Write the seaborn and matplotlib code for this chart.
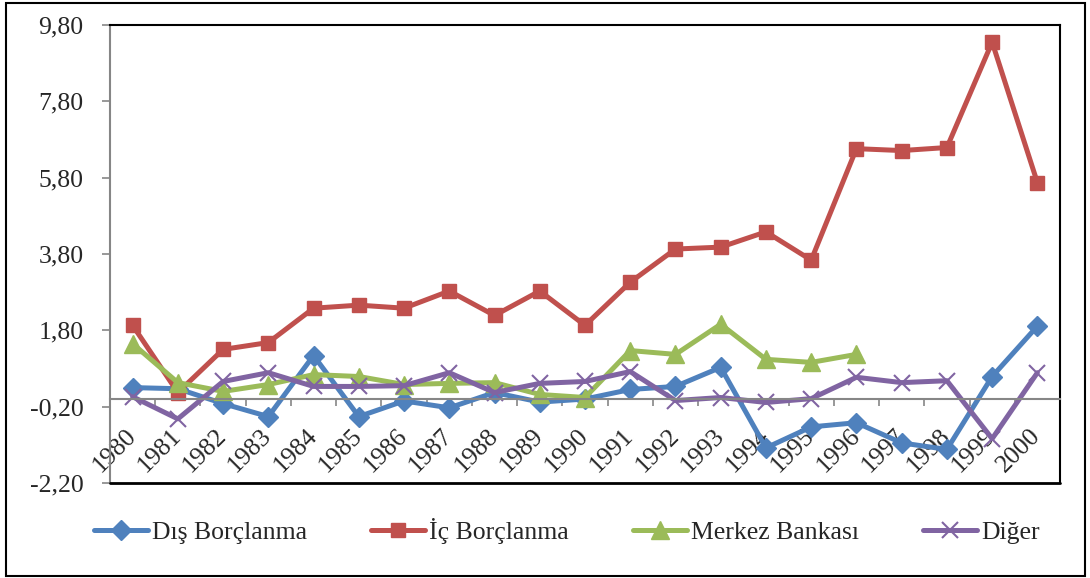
import numpy as np
import pandas as pd
import seaborn as sns

import matplotlib as mpl
import matplotlib.pyplot as plt
from matplotlib import ticker
from matplotlib.patches import Rectangle

# === DATA ===
years = list(range(1980, 2001))
dis_borclanma = [0.30, 0.27, -0.12, -0.46, 1.14, -0.46, -0.05, -0.23, 0.17, -0.08, 0.00,
                 0.25, 0.33, 0.83, -1.28, -0.73, -0.62, -1.15, -1.32, 0.59, 1.91]
ic_borclanma = [1.93, 0.17, 1.30, 1.48, 2.38, 2.46, 2.38, 2.83, 2.19, 2.83, 1.93,
                3.06, 3.93, 3.98, 4.38, 3.64, 6.56, 6.51, 6.59, 9.35, 5.67]
merkez_bankasi = [1.45, 0.43, 0.20, 0.38, 0.64, 0.59, 0.38, 0.41, 0.43, 0.12, 0.04,
                  1.27, 1.17, 1.96, 1.04, 0.96, 1.17, np.nan, np.nan, np.nan, np.nan]
diger = [0.06, -0.52, 0.46, 0.69, 0.33, 0.33, 0.35, 0.69, 0.17, 0.41, 0.46,
         0.72, -0.04, 0.04, -0.09, 0.01, 0.57, 0.43, 0.48, -1.04, 0.69]
series_names = ['Dış Borçlanma', 'İç Borçlanma', 'Merkez Bankası', 'Diğer']
y_ticks = [-2.2, -0.2, 1.8, 3.8, 5.8, 7.8, 9.8]

# === PLOT SETTINGS ===
sns.set_style('white')
mpl.rcParams.update({
    'font.family': ['Liberation Serif', 'DejaVu Serif'],
    'font.size': 18.5,
})

df = pd.DataFrame({'Yıl': years,
                   series_names[0]: dis_borclanma,
                   series_names[1]: ic_borclanma,
                   series_names[2]: merkez_bankasi,
                   series_names[3]: diger})

styles = {
    series_names[0]: dict(color='#4F81BD', marker='D', markersize=10.5),
    series_names[1]: dict(color='#C0504D', marker='s', markersize=10.5),
    series_names[2]: dict(color='#9BBB59', marker='^', markersize=13.5),
    series_names[3]: dict(color='#8064A2', marker='x', markersize=12, markeredgewidth=1.5),
}

# === FIGURE SETUP ===
fig = plt.figure(figsize=(10.9, 5.78), dpi=100)
ax = fig.add_axes([110 / 1090, 1 - 483 / 578, 950 / 1090, 458 / 578])

for name in series_names:
    st = styles[name]
    sub = df[['Yıl', name]].dropna()
    sns.lineplot(x=sub['Yıl'], y=sub[name], ax=ax, label=name,
                 color=st['color'], marker=st['marker'], markersize=st['markersize'],
                 markeredgecolor=st['color'], markerfacecolor=st['color'],
                 markeredgewidth=st.get('markeredgewidth', 1), linewidth=3.6,
                 solid_joinstyle='round', legend=False)

# === AXES ===
ax.set_xlim(years[0] - 0.5, years[-1] + 0.5)
ax.set_ylim(y_ticks[0], y_ticks[-1])
ax.set_yticks(y_ticks)
ax.set_yticklabels([f'{v:.2f}'.replace('.', ',') for v in y_ticks])
ax.set_xlabel('')
ax.set_ylabel('')

# category axis crosses at zero
ax.spines['bottom'].set_position(('data', 0))
ax.spines['bottom'].set_color('#868686')
ax.spines['bottom'].set_linewidth(1.5)
ax.spines['left'].set_color('#868686')
ax.spines['left'].set_linewidth(1.5)
for side in ['top', 'right']:
    ax.spines[side].set_color('black')
    ax.spines[side].set_linewidth(1.5)
ax.axhline(y_ticks[0], color='black', lw=2, clip_on=False, zorder=5)

ax.set_xticks(years)
ax.set_xticklabels([str(y) for y in years], rotation=45, ha='right', va='center',
                   rotation_mode='anchor')
ax.xaxis.set_minor_locator(ticker.FixedLocator(np.arange(years[0] - 0.5, years[-1] + 1)))
ax.tick_params(axis='x', which='major', length=0, pad=24, labelsize=18.5)
ax.tick_params(axis='x', which='minor', length=5, width=1.2, color='#868686', direction='out',
               bottom=True)
ax.tick_params(axis='y', which='major', length=6, width=1.2, color='#868686', direction='out',
               left=True, pad=13, labelsize=18.5)

# === LEGEND ===
ax.legend(loc='center', bbox_to_anchor=(567 / 1090, 1 - 531 / 578),
          bbox_transform=fig.transFigure, ncol=4, frameon=False,
          handlelength=2.1, handletextpad=0.15, columnspacing=2.5, fontsize=18.5)

# chart border
fig.patches.append(Rectangle((6 / 1090, 2 / 578), 1079 / 1090, 573 / 578,
                             transform=fig.transFigure, fill=False,
                             edgecolor='black', linewidth=1.5))

fig.savefig('out.png', dpi=100)
